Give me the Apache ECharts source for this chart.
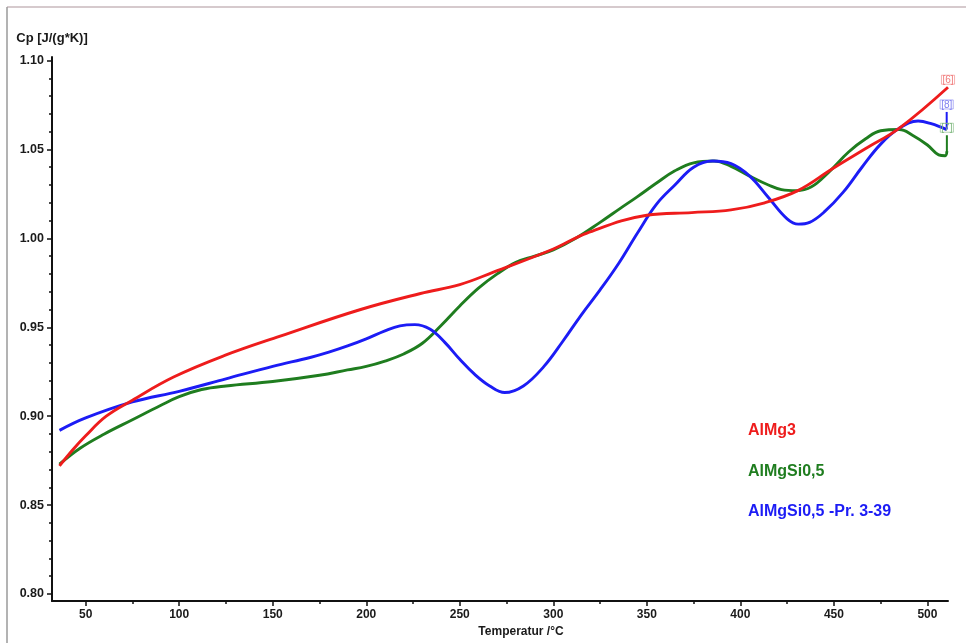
<!DOCTYPE html>
<html>
<head>
<meta charset="utf-8">
<title>Cp – Temperatur</title>
<script src="https://cdn.jsdelivr.net/npm/echarts@6/dist/echarts.min.js"></script>
<style>
  html, body { margin: 0; padding: 0; background: #ffffff; }
  #chart { width: 966px; height: 643px; }
</style>
</head>
<body>
<div id="chart"></div>
<script>
// Specific heat capacity Cp vs. temperature, three alloy measurements.
// Each point: [temperature °C, Cp J/(g*K)]
const seriesNames = ['AlMg3', 'AlMgSi0,5', 'AlMgSi0,5 -Pr. 3-39'];

const alMg3 = [
  [36, 0.872], [43, 0.881], [50, 0.889], [61, 0.900], [75, 0.909], [97, 0.922],
  [124, 0.934], [154, 0.945], [197, 0.960], [229, 0.969], [250, 0.974], [268, 0.981],
  [300, 0.994], [318, 1.003], [350, 1.013], [374, 1.0145], [395, 1.016], [413, 1.020],
  [431, 1.027], [449, 1.039], [467, 1.0505], [485, 1.062], [511, 1.085]
];

const alMgSi = [
  [36, 0.873], [47, 0.882], [60, 0.890], [75, 0.898], [90, 0.906], [100, 0.911],
  [112, 0.915], [125, 0.917], [150, 0.9195], [175, 0.923], [190, 0.926], [200, 0.928],
  [210, 0.931], [220, 0.935], [230, 0.941], [240, 0.951], [250, 0.962], [260, 0.972],
  [270, 0.980], [280, 0.9865], [290, 0.990], [300, 0.9935], [312, 1.000], [325, 1.009],
  [336, 1.017], [345, 1.0235], [355, 1.031], [365, 1.038], [375, 1.0425], [386, 1.0435],
  [395, 1.0405], [405, 1.035], [415, 1.030], [422, 1.0274], [430, 1.0268], [438, 1.029],
  [447, 1.037], [458, 1.0487], [467, 1.056], [475, 1.0605], [485, 1.0612], [492, 1.058],
  [500, 1.0525], [506, 1.047], [509.5, 1.0465], [510.4, 1.049]
];
const alMgSiTail = [[510.4, 1.048], [510.4, 1.058]];

const alMgSiPr = [
  [36, 0.892], [50, 0.899], [75, 0.908], [100, 0.914], [125, 0.921], [150, 0.928],
  [170, 0.933], [180, 0.936], [190, 0.9395], [200, 0.9435], [210, 0.948], [218, 0.9508],
  [226, 0.9515], [234, 0.949], [242, 0.9415], [250, 0.932], [258, 0.9235], [266, 0.917],
  [274, 0.9133], [284, 0.917], [295, 0.928], [305, 0.942], [315, 0.957], [325, 0.971],
  [335, 0.986], [345, 1.003], [355, 1.019], [365, 1.030], [375, 1.040], [385, 1.0435],
  [395, 1.042], [405, 1.035], [415, 1.023], [425, 1.011], [431, 1.008], [437, 1.009],
  [445, 1.015], [455, 1.026], [465, 1.040], [475, 1.053], [485, 1.062], [495, 1.066],
  [502, 1.0645], [510.3, 1.0612]
];
const alMgSiPrTail = [[510.3, 1.0612], [510.3, 1.0711]];

// End tags of the curves
const endTags = ['[6]', '[7]', '[8]'];

// Axis ticks
const xLabelTicks = [50, 100, 150, 200, 250, 300, 350, 400, 450, 500];
const xMinorTicks = [75, 125, 175, 225, 275, 325, 375, 425, 475];
const yLabelTicks = [0.80, 0.85, 0.90, 0.95, 1.00, 1.05, 1.10];
const yMinorTicks = [0.81, 0.82, 0.83, 0.84, 0.86, 0.87, 0.88, 0.89, 0.91, 0.92, 0.93, 0.94,
  0.96, 0.97, 0.98, 0.99, 1.01, 1.02, 1.03, 1.04, 1.06, 1.07, 1.08, 1.09];

const colors = ['#ee1c1c', '#1f7d1f', '#1c1cf5'];
const tagColors = ['#f07a7a', '#7fb87f', '#8080f0'];

const FONT = '"Liberation Sans", Arial, sans-serif';
const X_MIN = 32, X_MAX = 511, Y_MIN = 0.796, Y_MAX = 1.102;

const chart = echarts.init(document.getElementById('chart'), null, { renderer: 'canvas' });

// Small bracketed tag just above the last point of a curve
function endTag(data, tagIdx) {
  const p = data[data.length - 1];
  return {
    symbol: 'circle',
    symbolSize: 0,
    silent: true,
    data: [{
      coord: p,
      label: {
        show: true, formatter: endTags[tagIdx], position: 'top', distance: 3,
        color: tagColors[tagIdx], fontSize: 10, fontFamily: FONT,
        borderColor: tagColors[tagIdx], borderWidth: 0.6, padding: [0, 1, -1, 1]
      }
    }]
  };
}

const axisText = { color: '#1a1a1a', fontFamily: FONT, fontWeight: 'bold', fontSize: 12 };

const option = {
  animation: false,
  backgroundColor: '#ffffff',
  grid: { left: 52, right: 18, top: 57, bottom: 35, containLabel: false },
  legend: {
    orient: 'vertical',
    left: 738,
    top: 418,
    icon: 'none',
    itemWidth: 0,
    itemHeight: 16,
    itemGap: 24.5,
    selectedMode: false,
    data: seriesNames.map((n, i) => ({
      name: n,
      textStyle: { color: colors[i], fontFamily: FONT, fontWeight: 'bold', fontSize: 16 }
    }))
  },
  xAxis: [
    {
      type: 'value', min: X_MIN, max: X_MAX,
      name: 'Temperatur /°C', nameLocation: 'middle', nameGap: 20,
      nameTextStyle: Object.assign({}, axisText, { padding: [0, 0, 0, 42] }),
      axisLine: { show: true, lineStyle: { color: '#111', width: 2 } },
      axisTick: { show: true, customValues: xLabelTicks, length: 5, lineStyle: { color: '#111', width: 1.5 } },
      axisLabel: Object.assign({ customValues: xLabelTicks, margin: 8 }, axisText),
      splitLine: { show: false }
    },
    {
      type: 'value', min: X_MIN, max: X_MAX, position: 'bottom',
      axisLine: { show: false },
      axisTick: { show: true, customValues: xMinorTicks, length: 3, lineStyle: { color: '#111', width: 1.5 } },
      axisLabel: { show: false },
      splitLine: { show: false }
    }
  ],
  yAxis: [
    {
      type: 'value', min: Y_MIN, max: Y_MAX,
      name: 'Cp [J/(g*K)]', nameLocation: 'end', nameGap: 12,
      nameTextStyle: Object.assign({}, axisText, { fontSize: 13, align: 'center' }),
      axisLine: { show: true, lineStyle: { color: '#111', width: 2 } },
      axisTick: { show: true, customValues: yLabelTicks, length: 5, lineStyle: { color: '#111', width: 1.5 } },
      axisLabel: Object.assign({ customValues: yLabelTicks, margin: 8, formatter: v => v.toFixed(2) },
        axisText, { fontSize: 12.5 }),
      splitLine: { show: false }
    },
    {
      type: 'value', min: Y_MIN, max: Y_MAX, position: 'left',
      axisLine: { show: false },
      axisTick: { show: true, customValues: yMinorTicks, length: 3, lineStyle: { color: '#111', width: 1.5 } },
      axisLabel: { show: false },
      splitLine: { show: false }
    }
  ],
  series: [
    {
      name: seriesNames[0], type: 'line', data: alMg3, smooth: 0.4,
      showSymbol: false, symbol: 'none', color: colors[0],
      lineStyle: { width: 2.9, color: colors[0] }, z: 3,
      markPoint: endTag(alMg3, 0)
    },
    {
      name: seriesNames[1], type: 'line', data: alMgSi, smooth: 0.4,
      showSymbol: false, symbol: 'none', color: colors[1],
      lineStyle: { width: 2.9, color: colors[1] }, z: 2
    },
    {
      name: seriesNames[1] + ' tail', type: 'line', data: alMgSiTail, smooth: false,
      showSymbol: false, symbol: 'none', color: colors[1],
      lineStyle: { width: 2, color: colors[1] }, z: 2,
      markPoint: endTag(alMgSiTail, 1)
    },
    {
      name: seriesNames[2], type: 'line', data: alMgSiPr, smooth: 0.4,
      showSymbol: false, symbol: 'none', color: colors[2],
      lineStyle: { width: 2.9, color: colors[2] }, z: 2
    },
    {
      name: seriesNames[2] + ' tail', type: 'line', data: alMgSiPrTail, smooth: false,
      showSymbol: false, symbol: 'none', color: colors[2],
      lineStyle: { width: 2, color: colors[2] }, z: 2,
      markPoint: endTag(alMgSiPrTail, 2)
    }
  ],
  graphic: [
    { type: 'line', shape: { x1: 7, y1: 7, x2: 966, y2: 7 }, style: { stroke: '#c9b9bd', lineWidth: 1.5 }, silent: true },
    { type: 'line', shape: { x1: 7, y1: 7, x2: 7, y2: 643 }, style: { stroke: '#9a9a9a', lineWidth: 1.5 }, silent: true }
  ]
};

chart.setOption(option);
</script>
</body>
</html>
